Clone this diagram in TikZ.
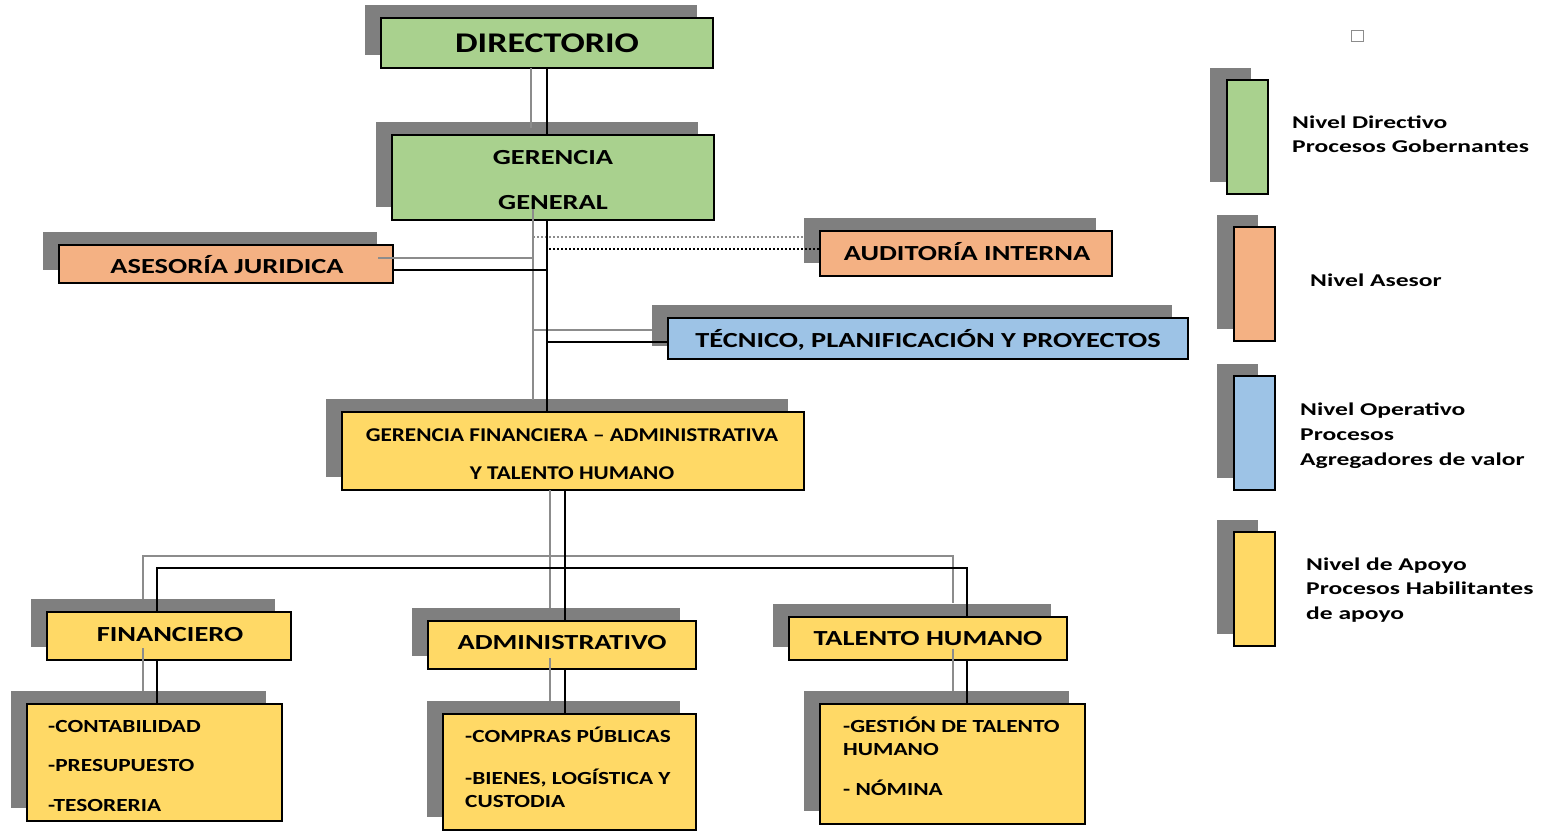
\documentclass[tikz,border=0pt]{standalone}
\usepackage{fontspec}
\setmainfont{Carlito}
\newfontfamily\fA{Carlito}[FakeStretch=1.26]
\newfontfamily\fB{Carlito}[FakeStretch=1.32]
\newfontfamily\fC{Carlito}[FakeStretch=1.19]
\newfontfamily\fD{Carlito}[FakeStretch=1.26]
\newfontfamily\fL{Carlito}[FakeStretch=1.42]
\usetikzlibrary{shadows}
\definecolor{cgreen}{HTML}{A9D18E}
\definecolor{corange}{HTML}{F4B183}
\definecolor{cblue}{HTML}{9DC3E6}
\definecolor{cyellow}{HTML}{FFD966}
\definecolor{shgray}{HTML}{7F7F7F}
\definecolor{lngray}{HTML}{8C8C8C}
\tikzset{
  orgbox/.style={draw=black, line width=2.5pt, rectangle, inner sep=0pt,
    drop shadow={shadow xshift=-16pt, shadow yshift=13pt, fill=shgray, opacity=1}},
  legbox/.style={draw=black, line width=2.5pt, rectangle, inner sep=0pt,
    minimum width=41pt, minimum height=114pt,
    drop shadow={shadow xshift=-17pt, shadow yshift=12pt, fill=shgray, opacity=1}},
  txt/.style={inner sep=0pt, text depth=0pt},
  tA/.style={txt, text height=18pt, font=\fA\bfseries\fontsize{28.5}{30}\selectfont},
  tB/.style={txt, text height=13.6pt, font=\fB\bfseries\fontsize{21.5}{24}\selectfont},
  tC/.style={txt, text height=12.3pt, font=\fC\bfseries\fontsize{19.5}{22}\selectfont},
  tD/.style={txt, text height=11.7pt, font=\fD\bfseries\fontsize{18.5}{21}\selectfont, anchor=west},
  tL/.style={txt, text height=11.4pt, font=\fL\bfseries\fontsize{18}{21}\selectfont, anchor=west},
  conn/.style={draw=black, line width=2.5pt},
  gconn/.style={draw=lngray, line width=2.5pt},
  dotconn/.style={draw=black, line width=2pt, dash pattern=on 2pt off 2pt},
  gdotconn/.style={draw=lngray, line width=2pt, dash pattern=on 2pt off 2pt},
}
\begin{document}
\begin{tikzpicture}[x=1pt,y=-1pt]
\useasboundingbox (0,0) rectangle (1541,832);

% ---- boxes
\node[orgbox, fill=cgreen,  minimum width=332pt, minimum height=50pt] (dir) at (547,43) {};
\node[orgbox, fill=cgreen,  minimum width=322pt, minimum height=85pt] (gg)  at (553,177.5) {};
\node[orgbox, fill=corange, minimum width=334pt, minimum height=38pt] (aj)  at (226,264) {};
\node[orgbox, fill=corange, minimum width=292pt, minimum height=45pt] (ai)  at (966,253.5) {};
\node[orgbox, fill=cblue,   minimum width=520pt, minimum height=41pt] (tec) at (928,338.5) {};
\node[orgbox, fill=cyellow, minimum width=462pt, minimum height=78pt] (gf)  at (573,451) {};
\node[orgbox, fill=cyellow, minimum width=244pt, minimum height=48pt] (fin) at (169,636) {};
\node[orgbox, fill=cyellow, minimum width=268pt, minimum height=48pt] (adm) at (562,645) {};
\node[orgbox, fill=cyellow, minimum width=278pt, minimum height=43pt] (th)  at (928,638.5) {};
\node[orgbox, fill=cyellow, minimum width=255pt, minimum height=117pt] (fsub) at (154.5,762.5) {};
\node[orgbox, fill=cyellow, minimum width=253pt, minimum height=116pt] (asub) at (569.5,772) {};
\node[orgbox, fill=cyellow, minimum width=265pt, minimum height=120pt] (tsub) at (952.5,764) {};

% ---- legend boxes
\node[legbox, fill=cgreen]  (lg1) at (1247.5,137) {};
\node[legbox, fill=corange] (lg2) at (1254.5,284) {};
\node[legbox, fill=cblue]   (lg3) at (1254.5,433) {};
\node[legbox, fill=cyellow] (lg4) at (1254.5,589) {};
\node[draw=lngray, line width=1pt, minimum width=12pt, minimum height=11pt, inner sep=0pt] (sq) at (1357,36.5) {};

% ---- connector shadows (gray)
\coordinate (bx) at (547,0);
\coordinate (cx) at (565,0);
\coordinate (busL) at (157,568);
\coordinate (busR) at (967,568);
\coordinate (gbusL) at (143,556);
\coordinate (gbusR) at (953,556);
\draw[gconn] (531,68) -- (531,128);
\draw[gconn] (533,208) -- (533,400);
\draw[gconn] (378,258) -- (533,258);
\draw[gdotconn] (533,237) -- (805,237);
\draw[gconn] (533,330) -- (652,330);
\draw[gconn] (550,490) -- (550,608);
\draw[gconn] (143,599) -- (gbusL) -- (gbusR) -- (953,603);
\draw[gconn] (143,648) -- (143,691);
\draw[gconn] (550,658) -- (550,701);
\draw[gconn] (953,649) -- (953,691);

% ---- connectors (black)
\draw[conn] (dir.south -| bx) -- (gg.north -| bx);
\draw[conn] (gg.south -| bx) -- (gf.north -| bx);
\draw[conn] (aj.east |- 0,270) -- (547,270);
\draw[dotconn] (549,249) -- (ai.west |- 0,249);
\draw[conn] (547,342) -- (tec.west |- 0,342);
\draw[conn] (gf.south -| cx) -- (adm.north -| cx);
\draw[conn] (fin.north -| busL) -- (busL) -- (busR) -- (th.north -| busR);
\draw[conn] (fin.south -| busL) -- (fsub.north -| busL);
\draw[conn] (adm.south -| cx) -- (asub.north -| cx);
\draw[conn] (th.south -| busR) -- (tsub.north -| busR);

% ---- texts
\node[tA] (t1) at (547,44) {DIRECTORIO};
\node[tB] (t2) at (553,158) {GERENCIA};
\node[tB] (t3) at (553,203) {GENERAL};
\node[tB] (t4) at (227,267) {ASESORÍA JURIDICA};
\node[tB] (t5) at (967,254) {AUDITORÍA INTERNA};
\node[tB] (t6) at (928,341) {TÉCNICO, PLANIFICACIÓN Y PROYECTOS};
\node[tC] (t7) at (572,435) {GERENCIA FINANCIERA – ADMINISTRATIVA};
\node[tC] (t8) at (572,473) {Y TALENTO HUMANO};
\node[tB] (t9) at (170,635) {FINANCIERO};
\node[tB] (t10) at (562,643) {ADMINISTRATIVO};
\node[tB] (t11) at (928,639) {TALENTO HUMANO};
\node[tD] (t12) at (48,727) {-CONTABILIDAD};
\node[tD] (t13) at (48,766) {-PRESUPUESTO};
\node[tD] (t14) at (48,806) {-TESORERIA};
\node[tD] (t15) at (465,737) {-COMPRAS PÚBLICAS};
\node[tD] (t16) at (465,779) {-BIENES, LOGÍSTICA Y};
\node[tD] (t17) at (465,802) {CUSTODIA};
\node[tD] (t18) at (843,727) {-GESTIÓN DE TALENTO};
\node[tD] (t19) at (843,750) {HUMANO};
\node[tD] (t20) at (843,790) {- NÓMINA};
\node[tL] (l1) at (1292,123) {Nivel Directivo};
\node[tL] (l2) at (1292,147) {Procesos Gobernantes};
\node[tL] (l3) at (1310,281) {Nivel Asesor};
\node[tL] (l4) at (1300,410) {Nivel Operativo};
\node[tL] (l5) at (1300,435) {Procesos};
\node[tL] (l6) at (1300,460) {Agregadores de valor};
\node[tL] (l7) at (1306,565) {Nivel de Apoyo};
\node[tL] (l8) at (1306,589) {Procesos Habilitantes};
\node[tL] (l9) at (1306,614) {de apoyo};
\end{tikzpicture}
\end{document}
